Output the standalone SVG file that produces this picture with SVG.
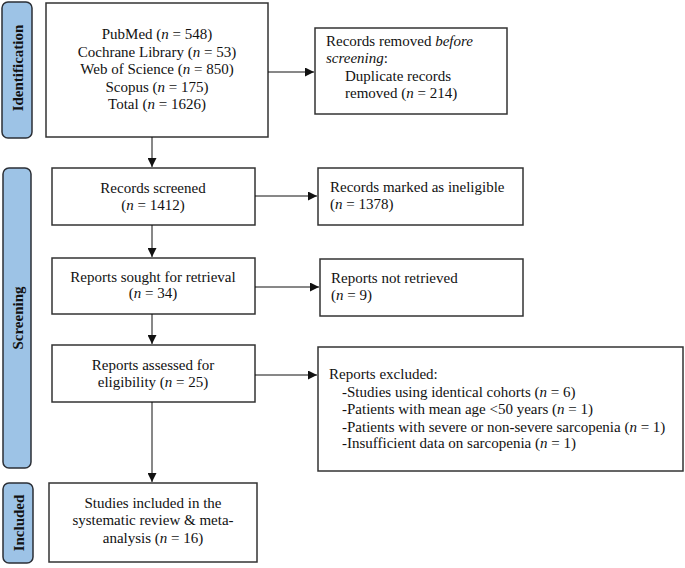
<svg xmlns="http://www.w3.org/2000/svg" width="685" height="568" viewBox="0 0 685 568">
<style>
text{font-family:"Liberation Serif","Times New Roman",serif;font-size:15px;fill:#111}
.box{fill:#fff;stroke:#333;stroke-width:1.5}
.side{fill:#9dc3e6;stroke:#2b2f36;stroke-width:1.5}
.st{font-weight:bold;font-size:15px}
.c{text-anchor:middle}
.ln{stroke:#111;stroke-width:1;fill:none}
</style>
<defs>
<marker id="ah" viewBox="0 0 10 10" refX="10" refY="5" markerWidth="9" markerHeight="9" markerUnits="userSpaceOnUse" orient="auto">
<path d="M0,0 L10,5 L0,10 z" fill="#111"/>
</marker>
</defs>
<g id="side-identification">
<rect class="side" x="2" y="2" width="30" height="136" rx="6"/>
<text class="st c" transform="translate(23,68) rotate(-90)">Identification</text>
</g>
<g id="side-screening">
<rect class="side" x="3" y="168" width="28" height="300" rx="6"/>
<text class="st c" transform="translate(23,318) rotate(-90)">Screening</text>
</g>
<g id="side-included">
<rect class="side" x="3" y="483" width="30" height="80" rx="6"/>
<text class="st c" transform="translate(24,523) rotate(-90)">Included</text>
</g>
<g id="databases">
<rect class="box" x="46" y="3" width="222" height="134"/>
<text class="c" x="157" y="39">PubMed (<tspan font-style="italic">n</tspan> = 548)</text>
<text class="c" x="157" y="57">Cochrane Library (<tspan font-style="italic">n</tspan> = 53)</text>
<text class="c" x="157" y="74">Web of Science (<tspan font-style="italic">n</tspan> = 850)</text>
<text class="c" x="157" y="92">Scopus (<tspan font-style="italic">n</tspan> = 175)</text>
<text class="c" x="157" y="109">Total (<tspan font-style="italic">n</tspan> = 1626)</text>
</g>
<g id="removed">
<rect class="box" x="315" y="28" width="192" height="86"/>
<text x="326" y="46">Records removed <tspan font-style="italic">before</tspan></text>
<text x="326" y="63"><tspan font-style="italic">screening</tspan>:</text>
<text x="345" y="81">Duplicate records</text>
<text x="345" y="98">removed (<tspan font-style="italic">n</tspan> = 214)</text>
</g>
<g id="screened">
<rect class="box" x="52" y="168" width="203" height="57"/>
<text class="c" x="153" y="193">Records screened</text>
<text class="c" x="153" y="210">(<tspan font-style="italic">n</tspan> = 1412)</text>
</g>
<g id="ineligible">
<rect class="box" x="318" y="168" width="205" height="57"/>
<text x="330" y="192">Records marked as ineligible</text>
<text x="330" y="209">(<tspan font-style="italic">n</tspan> = 1378)</text>
</g>
<g id="sought">
<rect class="box" x="52" y="258" width="203" height="56"/>
<text class="c" x="153" y="282">Reports sought for retrieval</text>
<text class="c" x="153" y="298">(<tspan font-style="italic">n</tspan> = 34)</text>
</g>
<g id="not-retrieved">
<rect class="box" x="320" y="259" width="203" height="57"/>
<text x="331" y="283">Reports not retrieved</text>
<text x="331" y="300">(<tspan font-style="italic">n</tspan> = 9)</text>
</g>
<g id="assessed">
<rect class="box" x="52" y="345" width="203" height="57"/>
<text class="c" x="153" y="370">Reports assessed for</text>
<text class="c" x="153" y="387">eligibility (<tspan font-style="italic">n</tspan> = 25)</text>
</g>
<g id="excluded">
<rect class="box" x="318" y="347" width="365" height="124"/>
<text x="329" y="379">Reports excluded:</text>
<text x="342" y="397">-Studies using identical cohorts (<tspan font-style="italic">n</tspan> = 6)</text>
<text x="342" y="414">-Patients with mean age &lt;50 years (<tspan font-style="italic">n</tspan> = 1)</text>
<text x="342" y="432">-Patients with severe or non-severe sarcopenia (<tspan font-style="italic">n</tspan> = 1)</text>
<text x="342" y="448">-Insufficient data on sarcopenia (<tspan font-style="italic">n</tspan> = 1)</text>
</g>
<g id="included">
<rect class="box" x="49" y="483" width="208" height="79"/>
<text class="c" x="153" y="508">Studies included in the</text>
<text class="c" x="153" y="525">systematic review &amp; meta-</text>
<text class="c" x="153" y="543">analysis (<tspan font-style="italic">n</tspan> = 16)</text>
</g>
<g id="connectors">
<line class="ln" x1="152" y1="137" x2="152" y2="167" marker-end="url(#ah)"/>
<line class="ln" x1="268" y1="72" x2="314" y2="72" marker-end="url(#ah)"/>
<line class="ln" x1="255" y1="196" x2="317" y2="196" marker-end="url(#ah)"/>
<line class="ln" x1="152" y1="225" x2="152" y2="257" marker-end="url(#ah)"/>
<line class="ln" x1="255" y1="287" x2="319" y2="287" marker-end="url(#ah)"/>
<line class="ln" x1="152" y1="314" x2="152" y2="344" marker-end="url(#ah)"/>
<line class="ln" x1="255" y1="375" x2="317" y2="375" marker-end="url(#ah)"/>
<line class="ln" x1="152" y1="402" x2="152" y2="482" marker-end="url(#ah)" stroke="#555"/>
</g>
</svg>
